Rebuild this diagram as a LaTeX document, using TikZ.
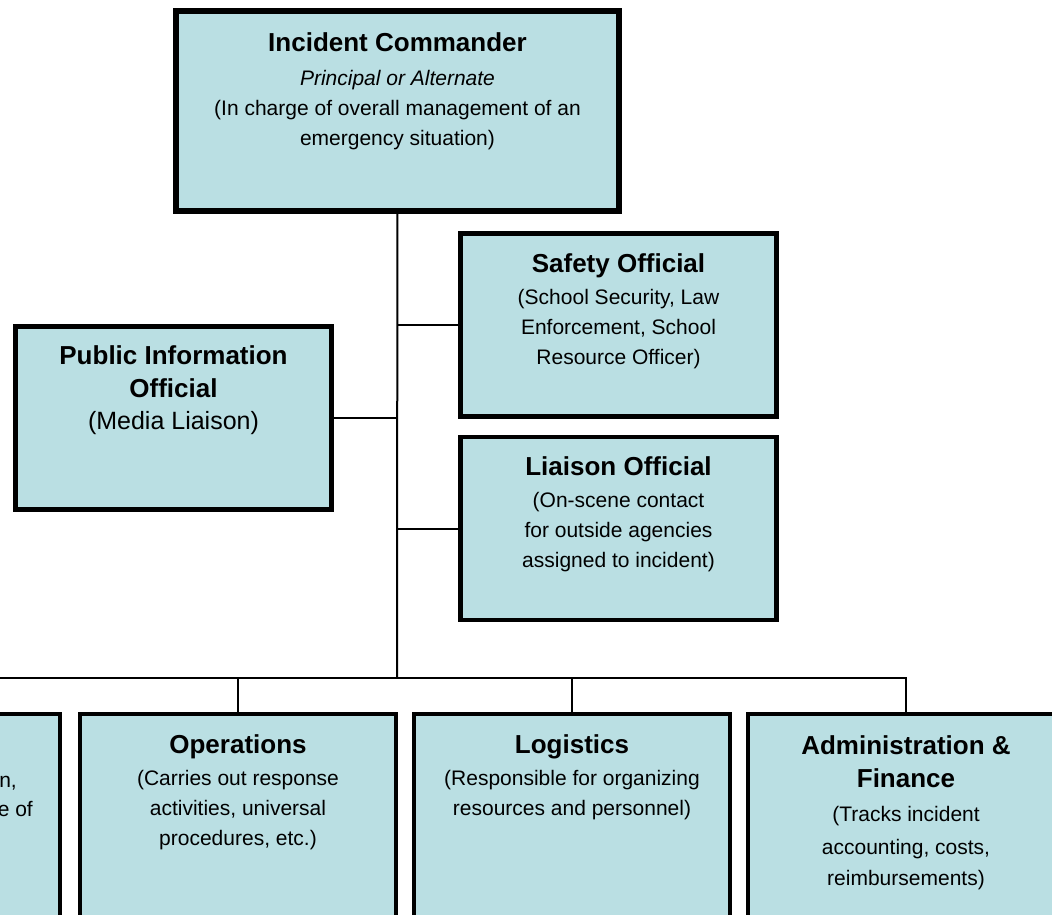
\documentclass[tikz,border=0pt]{standalone}
\usepackage{fontspec}
\setmainfont{Liberation Sans}
\usetikzlibrary{calc, positioning}
\definecolor{boxblue}{RGB}{186,223,227}
\tikzset{
  box/.style={draw=black, fill=boxblue, line width=4.5pt, minimum width=316pt, minimum height=183pt, inner sep=0pt}, % every role box
  bigbox/.style={box, line width=6pt, minimum width=443pt, minimum height=200pt}, % the commander
  lowbox/.style={box, line width=4pt, minimum height=236pt}, % sections, cut off at the bottom
  words/.style={align=center, inner sep=0pt, font=\fontsize{21}{30}\selectfont},
  link/.style={line width=2pt},
}
\newcommand{\boxtitle}[1]{{\fontsize{26}{30}\selectfont\bfseries #1}}

\begin{document}
\begin{tikzpicture}[x=1pt,y=1pt]
  \useasboundingbox (0,0) rectangle (1052,-915);
  \clip (0,0) rectangle (1052,-915);

  % command staff
  \node[bigbox] (ic) at (397.5,-111) {};
  \node[box] (safety) at (618.5,-325) {};
  \node[box, below=16pt of safety] (liaison) {};
  \node[box] (pio) at (173.5,-418) {};
  \coordinate (bus) at (397,-678);

  % general staff
  \node[lowbox] (ops) at (238,-832) {};
  \node[lowbox, right=14pt of ops] (logistics) {};
  \node[lowbox, right=14pt of logistics] (admin) {};
  \node[lowbox, left=16pt of ops] (plan) {};

  % texts
  \node[words, below=22pt of ic.north] (ic-txt) {\strut\boxtitle{Incident Commander}\\[4pt]
    \textit{Principal or Alternate}\\
    (In charge of overall management of an\\
    emergency situation)};
  \node[words, below=20pt of safety.north] (safety-txt) {\strut\boxtitle{Safety Official}\\[2pt]
    (School Security, Law\\
    Enforcement, School\\
    Resource Officer)};
  \node[words, below=20pt of liaison.north] (liaison-txt) {\strut\boxtitle{Liaison Official}\\[2pt]
    (On-scene contact\\
    for outside agencies\\
    assigned to incident)};
  \node[words, below=19pt of pio.north] (pio-txt) {\strut\boxtitle{Public Information}\\[3pt]
    \boxtitle{Official}\\[2pt]
    {\fontsize{25}{30}\selectfont (Media Liaison)}};
  \node[words, below=20pt of ops.north] (ops-txt) {\strut\boxtitle{Operations}\\[2pt]
    (Carries out response\\
    activities, universal\\
    procedures, etc.)};
  \node[words, below=20pt of logistics.north] (logistics-txt) {\strut\boxtitle{Logistics}\\[2pt]
    (Responsible for organizing\\
    resources and personnel)};
  \node[words, below=21pt of admin.north] (admin-txt) {\strut\boxtitle{Administration \&}\\[3pt]
    \boxtitle{Finance}\\[4pt]
    (Tracks incident\\[3pt]
    accounting, costs,\\[1pt]
    reimbursements)};
  \node[words, anchor=base east] (plan-a) at ($(plan.north east)+(-45,-75)$) {n,};
  \node[words, anchor=base east] (plan-b) at ($(plan.north east)+(-29,-104)$) {e of};

  % connectors
  \draw[link] (ic) -- (bus);
  \draw[link] (safety.west) -- (safety.west -| bus);
  \draw[link] (liaison.west) -- (liaison.west -| bus);
  \draw[link] (pio.east) -- (pio.east -| bus);
  \draw[link] (plan.north) |- (bus) -| (admin.north);
  \draw[link] (ops.north) -- (ops.north |- bus);
  \draw[link] (logistics.north) -- (logistics.north |- bus);
\end{tikzpicture}
\end{document}
